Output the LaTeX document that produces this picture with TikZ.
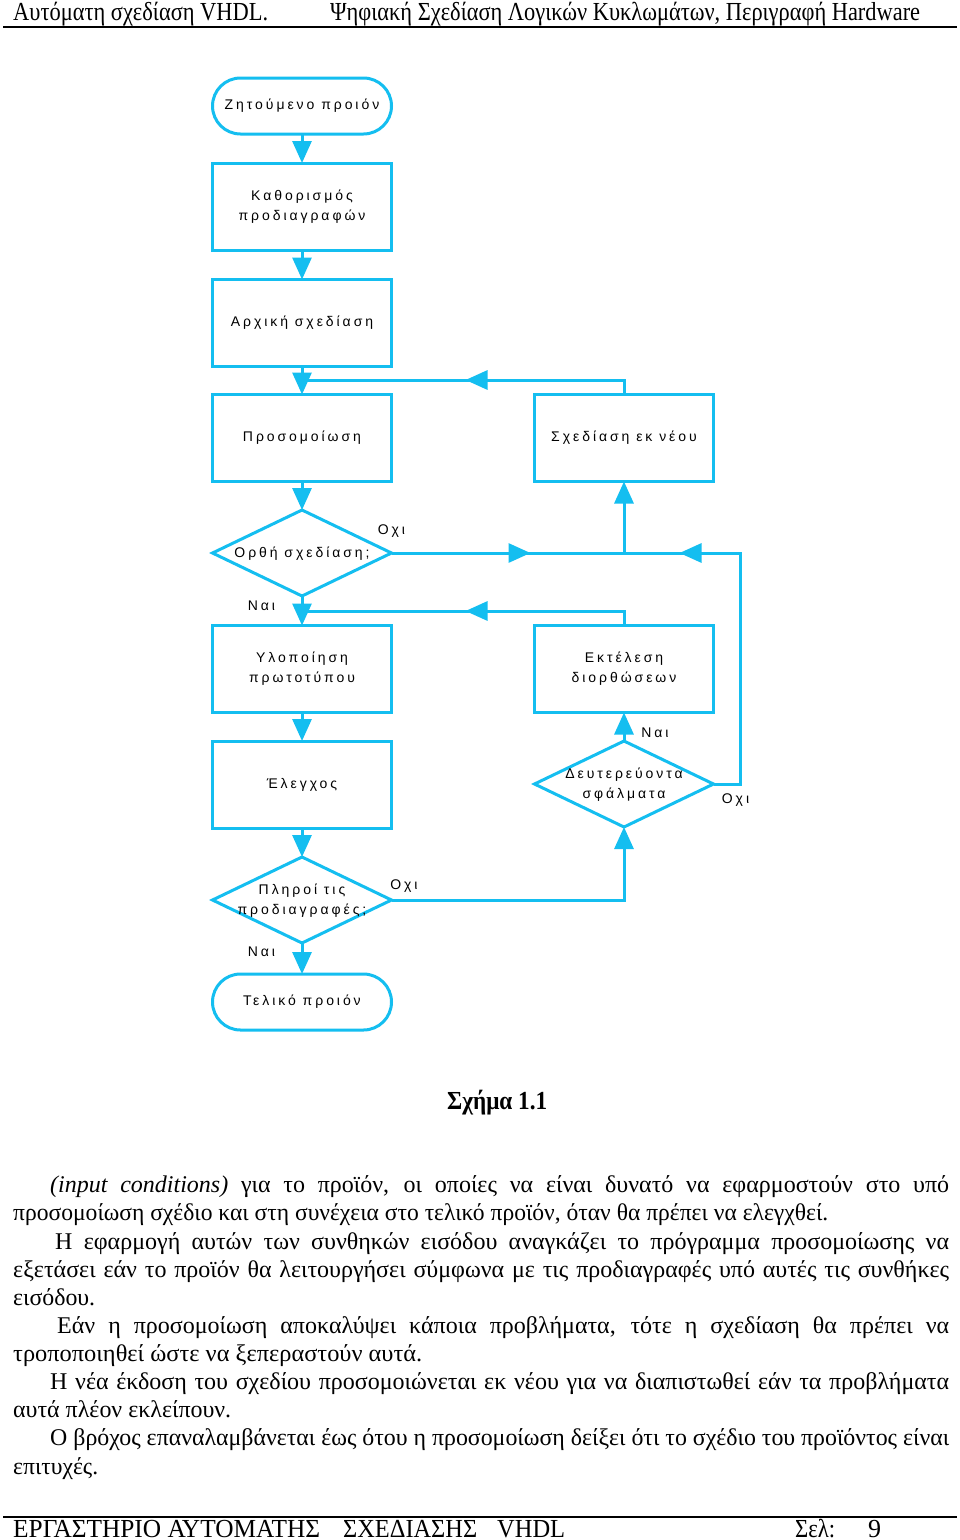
\documentclass[tikz,border=0pt]{standalone}
\usepackage{fontspec}
\usepackage{graphicx}
\setmainfont{Liberation Serif}
\newfontfamily\bodyfont{Liberation Serif}
\newfontfamily\dfont[LetterSpace=21]{Liberation Sans}
\usetikzlibrary{shapes.geometric,arrows.meta,decorations.markings}
\definecolor{fc}{RGB}{20,190,240}
\newlength\tmplen
\newcommand\fitline[2]{\resizebox{#1pt}{\height}{#2}}
\newcommand\jline[2]{\settowidth\tmplen{#2}\ifdim\tmplen<#1pt\makebox[#1pt][s]{#2}\else\resizebox{#1pt}{\height}{#2}\fi}
\newcommand\zbox[1]{\makebox[0pt]{\begin{tabular}{@{}c@{}}#1\end{tabular}}}
\begin{document}
\begin{tikzpicture}[x=1pt,y=-1pt,
  flow/.style={draw=fc, line width=3pt, font=\dfont\fontsize{14}{20}\selectfont, align=center, inner sep=0pt, outer sep=0pt},
  boxnode/.style={flow, rectangle, minimum width=179pt, minimum height=87pt},
  term/.style={flow, rectangle, rounded corners=28pt, minimum width=179pt, minimum height=56pt},
  dec/.style={flow, diamond, minimum width=179pt, minimum height=86pt},
  conn/.style={draw=fc, line width=3pt},
  arr/.style={conn, -{Triangle[width=19pt,length=22pt]}},
  midarr/.style={conn, postaction={decorate}, decoration={markings, mark=at position #1 with {\arrow{Triangle[width=19pt,length=22pt]}}}},
  lbl/.style={font=\dfont\fontsize{14}{16}\selectfont, inner sep=0pt},
  txt/.style={anchor=base west, inner sep=0pt, font=\bodyfont\fontsize{24}{28}\selectfont},
  hdr/.style={anchor=base west, inner sep=0pt, font=\fontsize{26}{28}\selectfont},
  rule/.style={draw=black, line width=1.3pt}
]
\useasboundingbox (0,0) rectangle (960,1540);
\fill[white] (0,0) rectangle (960,1540);

% header
\node[hdr] (h1) at (13,20) {\fitline{255}{Αυτόματη σχεδίαση VHDL.}};
\node[hdr] (h2) at (330,20) {\fitline{590}{Ψηφιακή Σχεδίαση Λογικών Κυκλωμάτων, Περιγραφή Hardware}};
\draw[rule] (3,27) -- (957,27);

% flowchart nodes
\node[term] (t1) at (302,106) {Ζητούμενο προιόν};
\node[boxnode] (b1) at (302,206.5) {Καθορισμός\\προδιαγραφών};
\node[boxnode] (b2) at (302,323) {Αρχική σχεδίαση};
\node[boxnode] (b3) at (302,438) {Προσομοίωση};
\node[dec] (d1) at (302,553) {\zbox{Ορθή σχεδίαση;}};
\node[boxnode] (b4) at (302,669) {Υλοποίηση\\πρωτοτύπου};
\node[boxnode] (b5) at (302,784.5) {Έλεγχος};
\node[dec] (d2) at (302,900) {\zbox{Πληροί τις\\προδιαγραφές;}};
\node[term] (t2) at (302,1002) {Τελικό προιόν};
\node[boxnode] (r1) at (624,438) {Σχεδίαση εκ νέου};
\node[boxnode] (r2) at (624,669) {Εκτέλεση\\διορθώσεων};
\node[dec] (d3) at (624,784) {\zbox{Δευτερεύοντα\\σφάλματα}};

\coordinate (j1) at (302,380);
\coordinate (j2) at (302,611);
\coordinate (c1) at (624,553);
\coordinate (e1) at (740,553);

% connectors
\draw[arr] (t1.south) -- (b1.north);
\draw[arr] (b1.south) -- (b2.north);
\draw[arr] (b2.south) -- (b3.north);
\draw[arr] (b3.south) -- (d1.north);
\draw[arr] (d1.south) -- (b4.north);
\draw[arr] (b4.south) -- (b5.north);
\draw[arr] (b5.south) -- (d2.north);
\draw[arr] (d2.south) -- (t2.north);
\draw[midarr=173pt] (r1.north) |- (j1);
\draw[midarr=173pt] (r2.north) |- (j2);
\draw[midarr=139pt] (d1.east) -- (c1);
\draw[arr] (c1) -- (r1.south);
\draw[midarr=318pt] (d3.east) -| (e1) -- (c1);
\draw[arr] (d3.north) -- (r2.south);
\draw[arr] (d2.east) -| (d3.south);

% labels
\node[lbl] (l1) at (391.5,531) {Οχι};
\node[lbl] (l2) at (261.5,606) {Ναι};
\node[lbl] (l3) at (655,733) {Ναι};
\node[lbl] (l4) at (735.5,800) {Οχι};
\node[lbl] (l5) at (404,886) {Οχι};
\node[lbl] (l6) at (261.5,952) {Ναι};

% caption
\node[hdr] (cap) at (447,1109) {\fitline{100}{\bfseries Σχήμα 1.1}};

% body text
\node[txt] (p1) at (50,1192) {\jline{899}{{\itshape (input conditions)} για το προϊόν, οι οποίες να είναι δυνατό να εφαρμοστούν στο υπό}};
\node[txt] (p2) at (13,1220) {\fitline{815}{προσομοίωση σχέδιο και στη συνέχεια στο τελικό προϊόν, όταν θα πρέπει να ελεγχθεί.}};
\node[txt] (p3) at (55,1249) {\jline{894}{Η εφαρμογή αυτών των συνθηκών εισόδου αναγκάζει το πρόγραμμα προσομοίωσης να}};
\node[txt] (p4) at (13,1277) {\jline{936}{εξετάσει εάν το προϊόν θα λειτουργήσει σύμφωνα με τις προδιαγραφές υπό αυτές τις συνθήκες}};
\node[txt] (p5) at (13,1305) {\fitline{82}{εισόδου.}};
\node[txt] (p6) at (57,1333) {\jline{892}{Εάν η προσομοίωση αποκαλύψει κάποια προβλήματα, τότε η σχεδίαση θα πρέπει να}};
\node[txt] (p7) at (13,1361) {\fitline{409}{τροποποιηθεί ώστε να ξεπεραστούν αυτά.}};
\node[txt] (p8) at (50,1389) {\jline{899}{Η νέα έκδοση του σχεδίου προσομοιώνεται εκ νέου για να διαπιστωθεί εάν τα προβλήματα}};
\node[txt] (p9) at (13,1417) {\fitline{218}{αυτά πλέον εκλείπουν.}};
\node[txt] (p10) at (50,1445) {\jline{899}{Ο βρόχος επαναλαμβάνεται έως ότου η προσομοίωση δείξει ότι το σχέδιο του προϊόντος είναι}};
\node[txt] (p11) at (13,1474) {\fitline{85}{επιτυχές.}};

% footer
\draw[rule] (3,1517) -- (957,1517);
\node[hdr] (f1) at (13,1537) {\fitline{307}{ΕΡΓΑΣΤΗΡΙΟ ΑΥΤΟΜΑΤΗΣ}};
\node[hdr] (f2) at (343,1537) {\fitline{134}{ΣΧΕΔΙΑΣΗΣ}};
\node[hdr] (f3) at (497,1537) {\fitline{68}{VHDL}};
\node[hdr] (f4) at (795,1537) {\fitline{40}{Σελ:}};
\node[hdr] (f5) at (868,1537) {9};
\end{tikzpicture}
\end{document}
